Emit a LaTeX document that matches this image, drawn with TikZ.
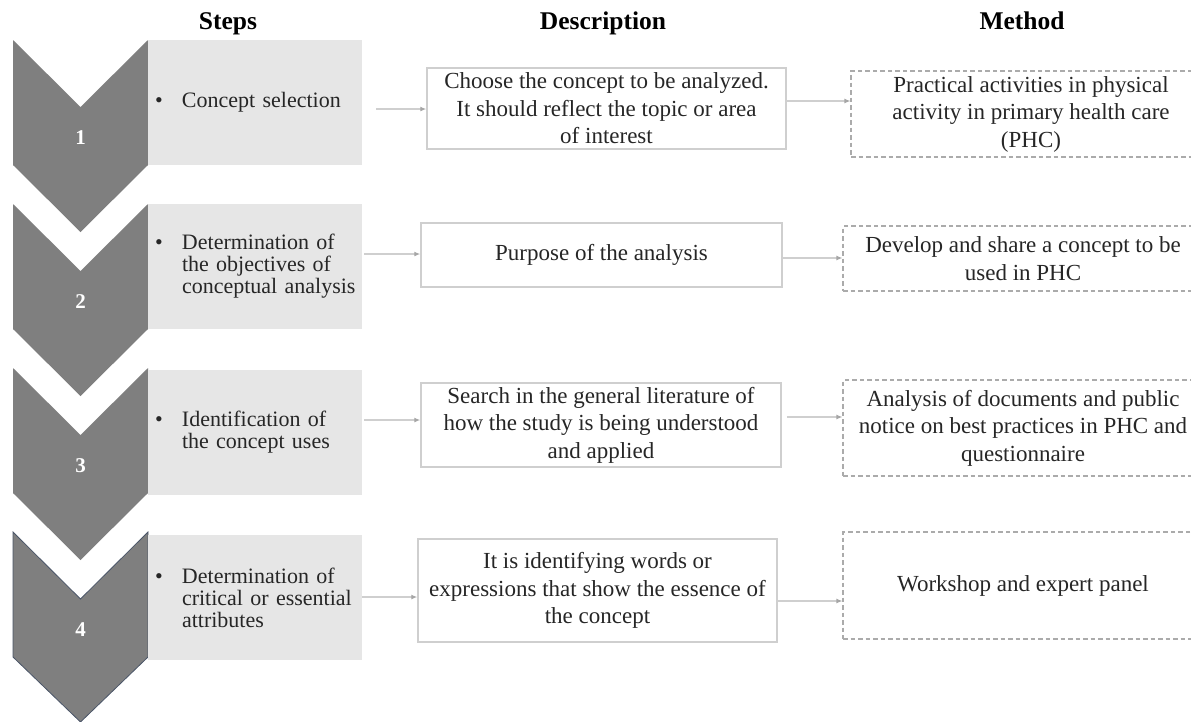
\documentclass[tikz,border=0pt]{standalone}
\usepackage{fontspec}
\setmainfont{Liberation Serif}
\usetikzlibrary{arrows.meta}
\definecolor{chev}{HTML}{7F7F7F}
\definecolor{gfill}{HTML}{E6E6E6}
\definecolor{lineg}{HTML}{CFCFCF}
\definecolor{tipg}{HTML}{A6A6A6}
\definecolor{dashg}{HTML}{ABABAB}
\definecolor{txt}{HTML}{262626}
\definecolor{chevedge}{HTML}{4A5568}
\newcommand{\stepbullet}{\hspace*{7pt}\makebox[27pt][l]{\textbullet}}
\newcommand{\stepindent}{\hspace*{34pt}}
\begin{document}
\begin{tikzpicture}[x=1pt,y=-1pt,
  chevron/.style={fill=chev},
  numlabel/.style={text=white,font=\fontsize{21}{22}\selectfont\bfseries,inner sep=0pt},
  stepbox/.style={fill=gfill,minimum width=214pt,minimum height=125pt,text width=214pt,inner xsep=0pt,inner ysep=0pt,align=left,text=txt,font=\fontsize{22}{22}\selectfont},
  descbox/.style={draw=lineg,line width=1.5pt,fill=white,align=center,text=txt,font=\fontsize{23}{27.5}\selectfont,inner sep=0pt},
  methbox/.style={draw=dashg,line width=1.1pt,dash pattern=on 4.5pt off 3pt,align=center,text=txt,font=\fontsize{23}{27.5}\selectfont,inner sep=0pt,minimum width=360pt},
  head/.style={font=\fontsize{25.5}{28}\selectfont\bfseries,anchor=base,inner sep=0pt},
  arr/.style={draw=lineg,line width=1.6pt,-{Latex[length=6pt,width=5pt,color=tipg]}}
]
\clip (0,0) rectangle (1191,721);
\fill[white] (0,0) rectangle (1191,721);

% headers
\node[head] (hsteps) at (228,29) {Steps};
\node[head] (hdesc) at (603,29) {Description};
\node[head] (hmeth) at (1022,29) {Method};

% chevrons
\foreach \t in {40,204,368}{
  \fill[chevron] (13,\t) -- (80.5,\t+67) -- (148,\t) -- (148,\t+125) -- (80.5,\t+192) -- (13,\t+125) -- cycle;
}
\filldraw[chevron,draw=chevedge,line width=0.8pt] (13,532) -- (80.5,599) -- (148,532) -- (148,657) -- (80.5,722) -- (13,657) -- cycle;
\node[numlabel] (n1) at (80.5,138) {1};
\node[numlabel] (n2) at (80.5,302) {2};
\node[numlabel] (n3) at (80.5,466) {3};
\node[numlabel] (n4) at (80.5,630) {4};

% step boxes
\node[stepbox] (g1) at (255,102.5) {\stepbullet Concept selection};
\node[stepbox] (g2) at (255,266.5) {\stepbullet Determination of\\\stepindent the objectives of\\\stepindent conceptual analysis};
\node[stepbox] (g3) at (255,432) {\stepbullet Identification of\\\stepindent the concept uses};
\node[stepbox] (g4) at (255,597.5) {\stepbullet Determination of\\\stepindent critical or essential\\\stepindent attributes};

% description boxes
\node[descbox,minimum width=359pt,minimum height=81pt] (d1) at (606.5,108.5) {Choose the concept to be analyzed.\\It should reflect the topic or area\\of interest};
\node[descbox,minimum width=361pt,minimum height=64pt] (d2) at (601.5,255) {Purpose of the analysis};
\node[descbox,minimum width=360pt,minimum height=84pt] (d3) at (601,425) {Search in the general literature of\\how the study is being understood\\and applied};
\node[descbox,minimum width=359pt,minimum height=103pt] (d4) at (597.5,590.5) {It is identifying words or\\expressions that show the essence of\\the concept};

% method boxes
\node[methbox,minimum height=86pt] (m1) at (1031,114) {\rule{0pt}{6pt}Practical activities in physical\\activity in primary health care\\(PHC)};
\node[methbox,minimum height=65pt] (m2) at (1023,258.5) {Develop and share a concept to be\\used in PHC};
\node[methbox,minimum height=96pt] (m3) at (1023,428) {Analysis of documents and public\\notice on best practices in PHC and\\questionnaire};
\node[methbox,minimum height=107pt] (m4) at (1023,585.5) {Workshop and expert panel};

% connectors
\draw[arr] ([xshift=14pt]g1.east |- 0,109) -- (d1.west |- 0,109);
\draw[arr] (d1.east |- 0,101) -- (m1.west |- 0,101);
\draw[arr] ([xshift=2pt]g2.east |- 0,254) -- (d2.west |- 0,254);
\draw[arr] (d2.east |- 0,258) -- (m2.west |- 0,258);
\draw[arr] ([xshift=2pt]g3.east |- 0,420) -- (d3.west |- 0,420);
\draw[arr] ([xshift=5pt]d3.east |- 0,417) -- (m3.west |- 0,417);
\draw[arr] (g4.east |- 0,597) -- (d4.west |- 0,597);
\draw[arr] (d4.east |- 0,601) -- (m4.west |- 0,601);
\end{tikzpicture}
\end{document}
